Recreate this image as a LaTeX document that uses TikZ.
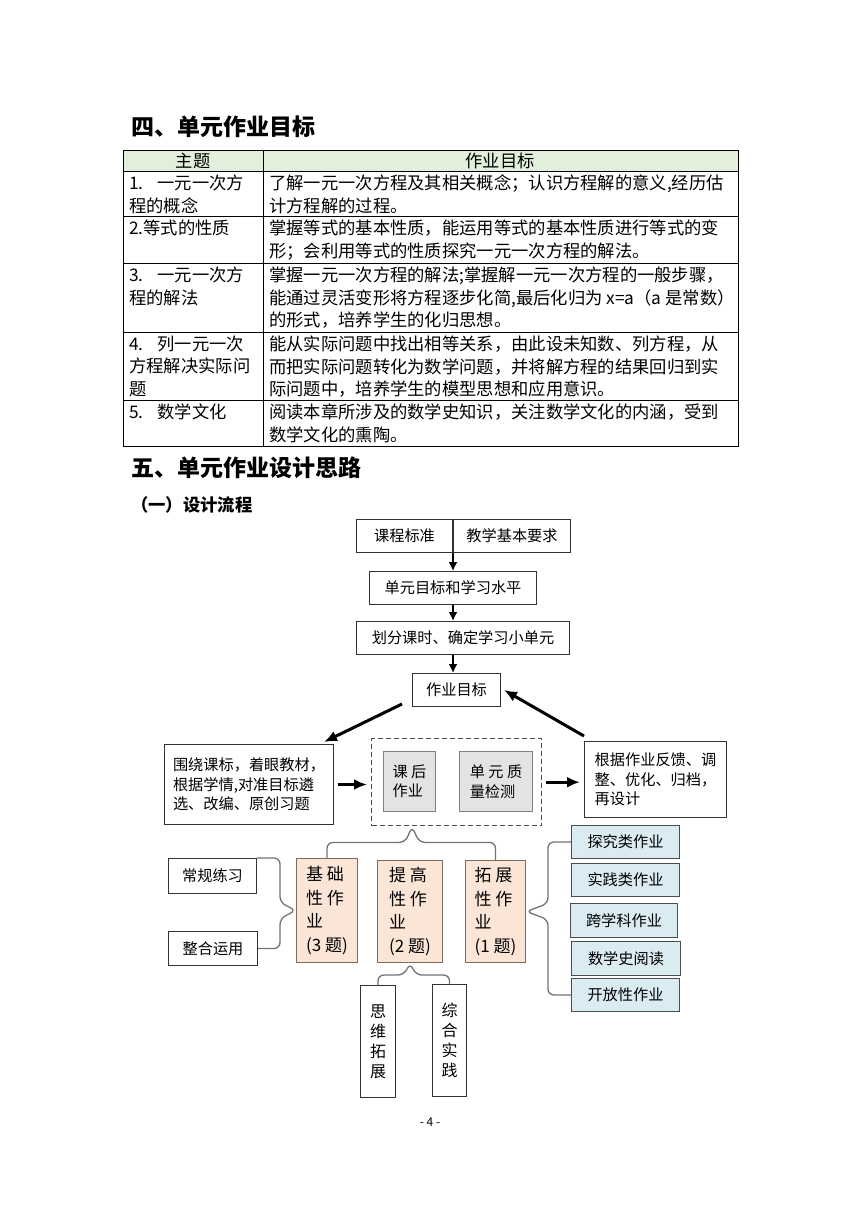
\documentclass[tikz,border=0pt]{standalone}
\usepackage{fontspec}
\newfontfamily\cjk{Noto Sans CJK SC}
\usetikzlibrary{positioning, arrows.meta, calc}

\definecolor{headgreen}{HTML}{E2EFDA}
\definecolor{peach}{HTML}{FBE5D6}
\definecolor{paleblue}{HTML}{DAEBF2}
\definecolor{peachline}{HTML}{7F6A5C}

\begin{document}
\begin{tikzpicture}[
    x=1pt, y=-1pt, >=Latex,
    every node/.style={font=\cjk, inner sep=0pt},
    title/.style={anchor=west, font=\cjk\bfseries\fontsize{23}{28}\selectfont},
    subtitle/.style={anchor=west, font=\cjk\bfseries\fontsize{17.3}{21}\selectfont},
    cell/.style={anchor=north west, align=left, font=\cjk\fontsize{17.3}{22.7}\selectfont},
    box/.style={draw=black!80, line width=1pt, anchor=north west, align=center,
        font=\cjk\fontsize{15.2}{19.5}\selectfont},
    inbox/.style={box, draw=black!50, fill=gray!22, align=left},
    level/.style={box, draw=peachline, fill=peach, align=left,
        font=\cjk\fontsize{17}{23.5}\selectfont},
    kind/.style={box, draw=black!70, fill=paleblue},
    tall/.style={box, font=\cjk\fontsize{16}{20}\selectfont},
    bracket/.style={draw=black!55, line width=1.3pt, rounded corners=6pt},
    flow/.style={-{Latex[length=9pt,width=9pt]}, line width=2.2pt},
    bigflow/.style={-{Latex[length=13pt,width=11pt]}, line width=3pt}
]

\fill[white] (0,0) rectangle (860,1216);
\useasboundingbox (0,0) rectangle (860,1216);

% -------------------------
% Section 4: table
% -------------------------
\node[title] (h4) at (131,127) {四、单元作业目标};

\fill[headgreen] (123,150) rectangle (738,171);
\draw[line width=0.9pt] (123,150) rectangle (738,446);
\draw[line width=0.9pt] (263,150) -- (263,446);
\foreach \r in {171,216,263,332,400}
    \draw[line width=0.9pt] (123,\r) -- (738,\r);

\node[cell, anchor=center] (zt) at (193,161) {主题};
\node[cell, anchor=center] (zm) at (500,161) {作业目标};

% 1. concept
\node[cell] (t1) at (129,174.5) {1.\hspace{0.8em}一元一次方\\程的概念};
\node[cell] (g1) at (269,174.5) {了解一元一次方程及其相关概念；认识方程解的意义,经历估\\计方程解的过程。};

% 2. properties
\node[cell] (t2) at (129,219.5) {2.等式的性质};
\node[cell] (g2) at (269,219.5) {掌握等式的基本性质，能运用等式的基本性质进行等式的变\\形；会利用等式的性质探究一元一次方程的解法。};

% 3. solving
\node[cell] (t3) at (129,266.5) {3.\hspace{0.8em}一元一次方\\程的解法};
\node[cell] (g3) at (269,266.5) {掌握一元一次方程的解法;掌握解一元一次方程的一般步骤，\\能通过灵活变形将方程逐步化简,最后化归为 x=a（a 是常数）\\的形式，培养学生的化归思想。};

% 4. applications
\node[cell] (t4) at (129,335.5) {4.\hspace{0.8em}列一元一次\\方程解决实际问\\题};
\node[cell] (g4) at (269,335.5) {能从实际问题中找出相等关系，由此设未知数、列方程，从\\而把实际问题转化为数学问题，并将解方程的结果回归到实\\际问题中，培养学生的模型思想和应用意识。};

% 5. culture
\node[cell] (t5) at (129,403.5) {5.\hspace{0.8em}数学文化};
\node[cell] (g5) at (269,403.5) {阅读本章所涉及的数学史知识，关注数学文化的内涵，受到\\数学文化的熏陶。};

% -------------------------
% Section 5: flow chart
% -------------------------
\node[title] (h5) at (131,468) {五、单元作业设计思路};
\node[subtitle] (h51) at (131,505) {（一）设计流程};

% top chain
\node[box, minimum width=96, minimum height=33] (kcbz) at (356,519) {课程标准};
\node[box, minimum width=117, minimum height=33, right=0pt of kcbz] (jxyq) {教学基本要求};
\node[box, minimum width=167, minimum height=33] (dymb) at (369,571) {单元目标和学习水平};
\node[box, minimum width=213, minimum height=33] (hfks) at (356,621) {划分课时、确定学习小单元};
\node[box, minimum width=88, minimum height=33] (zymb) at (412,673) {作业目标};

\draw[flow] (kcbz.south east) -- (kcbz.south east |- dymb.north);
\draw[flow] (dymb.south) -- (dymb.south |- hfks.north);
\draw[flow] (hfks.south -| dymb.south) -- (zymb.north -| dymb.south);

% middle row
\node[box, minimum width=169, minimum height=80, align=left] (wrkb) at (164,744) {围绕课标，着眼教材，\\根据学情,对准目标遴\\选、改编、原创习题};
\node[draw=black!70, dash pattern=on 5pt off 3pt, line width=1.4pt, minimum width=170, minimum height=87, anchor=north west] (zyk) at (371,738) {};
\node[inbox, minimum width=52, minimum height=60] (khzy) at (383,751) {课 后\\作业};
\node[inbox, minimum width=73, minimum height=60] (dyzl) at (459,751) {单 元 质\\量检测};
\node[box, minimum width=142, minimum height=76, align=left] (gjfk) at (584,741) {根据作业反馈、调\\整、优化、归档，\\再设计};

\draw[bigflow] ($(zymb.south west)+(-10,-3)$) -- ($(wrkb.north east)+(-10,-2)$);
\draw[bigflow] ($(gjfk.north west)+(0,-5)$) -- ($(zymb.east)+(3,0)$);
\draw[bigflow, shorten <=4pt, shorten >=4pt] (wrkb.east) -- (wrkb.east -| zyk.west);
\draw[bigflow, shorten <=4pt, shorten >=4pt] (zyk.east) -- (zyk.east -| gjfk.west);

% levels
\node[box, minimum width=88, minimum height=35] (cglx) at (168,858) {常规练习};
\node[box, minimum width=89, minimum height=34] (zhyy) at (168,931) {整合运用};
\node[level, minimum width=61, minimum height=104] (jcx) at (296,858) {基 础\\性 作\\业\\(3 题)};
\node[level, minimum width=65, minimum height=102] (tgx) at (377,860) {提 高\\性 作\\业\\(2 题)};
\node[level, minimum width=60, minimum height=102] (tzx) at (465,860) {拓 展\\性 作\\业\\(1 题)};

% kinds of extension work
\node[kind, minimum width=108, minimum height=33] (tjl) at (571,825) {探究类作业};
\node[kind, minimum width=108, minimum height=33] (sjl) at (571,863) {实践类作业};
\node[kind, minimum width=107, minimum height=34] (kxk) at (570,903) {跨学科作业};
\node[kind, minimum width=109, minimum height=34] (sxs) at (571,941) {数学史阅读};
\node[kind, minimum width=108, minimum height=33] (kfx) at (571,978) {开放性作业};

% improvement work
\node[tall, minimum width=35, minimum height=112] (swtz) at (360,985) {思\\维\\拓\\展};
\node[tall, minimum width=34, minimum height=112] (zhsj) at (432,984) {综\\合\\实\\践};

% brackets
\coordinate (tip1) at ($(zyk.south west)!0.24!(zyk.south east)$);
\draw[bracket] (jcx.north) |- ($(tip1)+(-7,16)$) -- (tip1) -- ($(tip1)+(7,16)$) -| (tzx.north);
\draw[bracket] (cglx.north east) -| ($(jcx.west)+(-16,-8)$) -- (jcx.west) -- ($(jcx.west)+(-16,8)$) |- (zhyy.east);
\draw[bracket] (tjl.west) -| ($(tzx.east)+(22,-8)$) -- (tzx.east) -- ($(tzx.east)+(22,8)$) |- (kfx.west);
\draw[bracket] (swtz.north) |- ($(tgx.south)+(-6,12)$) -- (tgx.south) -- ($(tgx.south)+(6,12)$) -| (zhsj.north);

\node[font=\cjk\fontsize{12}{14}\selectfont] (ym) at (430,1122) {- 4 -};

\end{tikzpicture}
\end{document}
